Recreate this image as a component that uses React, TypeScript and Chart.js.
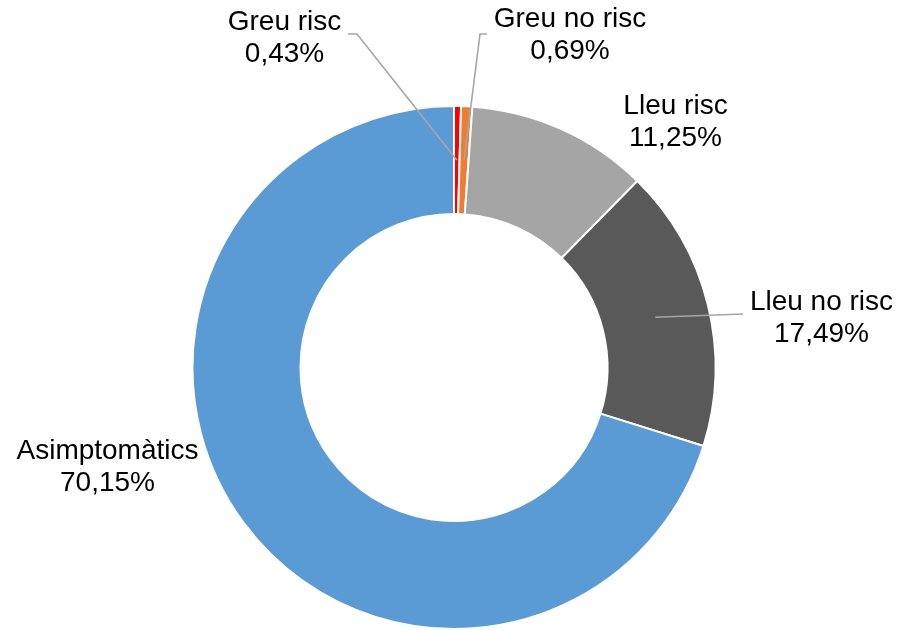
import React, { useEffect, useRef } from "react";
import { Chart, registerables } from "chart.js";

Chart.register(...registerables);

const categories = ["Greu risc", "Greu no risc", "Lleu risc", "Lleu no risc", "Asimptomàtics"];
const percentages = [0.43, 0.69, 11.25, 17.49, 70.15];
const colors = ["#FF0000", "#ED7D31", "#A5A5A5", "#595959", "#5B9BD5"];
// label text block: centre-x offset and first-baseline offset from the chart centre (px)
const labelOffsets: number[][] = [
  [-169.5, -337.5],
  [116, -340.5],
  [221.5, -253.5],
  [367.5, -57.5],
  [-346.5, 91.5],
];
// leader-line start points (offsets from chart centre); the line ends at the slice centroid
const leaderStarts: (number[][] | null)[] = [
  [[-106, -333.5], [-97, -333.5]],
  [[33, -333.5], [26, -333.5]],
  null,
  [[289, -53.5]],
  null,
];

const fmt = (v: number) => v.toFixed(2).replace(".", ",") + "%";

const labelPlugin = {
  id: "calloutLabels",
  afterDatasetsDraw(chart: any) {
    const meta = chart.getDatasetMeta(0);
    const ctx = chart.ctx;
    ctx.save();
    meta.data.forEach((arc: any, i: number) => {
      const cx = arc.x;
      const cy = arc.y;
      const leader = leaderStarts[i];
      if (leader) {
        const c = arc.getCenterPoint();
        ctx.beginPath();
        ctx.strokeStyle = "#A6A6A6";
        ctx.lineWidth = 1.6;
        ctx.moveTo(cx + leader[0][0], cy + leader[0][1]);
        for (let k = 1; k < leader.length; k++) ctx.lineTo(cx + leader[k][0], cy + leader[k][1]);
        ctx.lineTo(c.x, c.y);
        ctx.stroke();
      }
      const [dx, dy] = labelOffsets[i];
      ctx.fillStyle = "#000000";
      ctx.font = '28px "Liberation Sans", Arial, sans-serif';
      ctx.textAlign = "center";
      ctx.textBaseline = "alphabetic";
      ctx.fillText(categories[i], cx + dx, cy + dy);
      ctx.fillText(fmt(percentages[i]), cx + dx, cy + dy + 32);
    });
    ctx.restore();
  },
};

export default function App() {
  const ref = useRef<HTMLCanvasElement | null>(null);
  useEffect(() => {
    if (!ref.current) return;
    const chart = new Chart(ref.current, {
      type: "doughnut",
      data: {
        labels: categories,
        datasets: [
          {
            data: percentages,
            backgroundColor: colors,
            borderColor: "#FFFFFF",
            borderWidth: 2,
          },
        ],
      },
      options: {
        animation: false,
        responsive: true,
        maintainAspectRatio: false,
        cutout: "58.7%",
        layout: { padding: { top: 105, bottom: -2, left: 190.5, right: 186.5 } },
        plugins: {
          legend: { display: false },
          tooltip: { enabled: false },
        },
      },
      plugins: [labelPlugin],
    });
    return () => chart.destroy();
  }, []);
  return (
    <div style={{ position: "absolute", left: 0, top: 0, width: 904, height: 630, background: "#fff" }}>
      <canvas ref={ref} />
    </div>
  );
}
